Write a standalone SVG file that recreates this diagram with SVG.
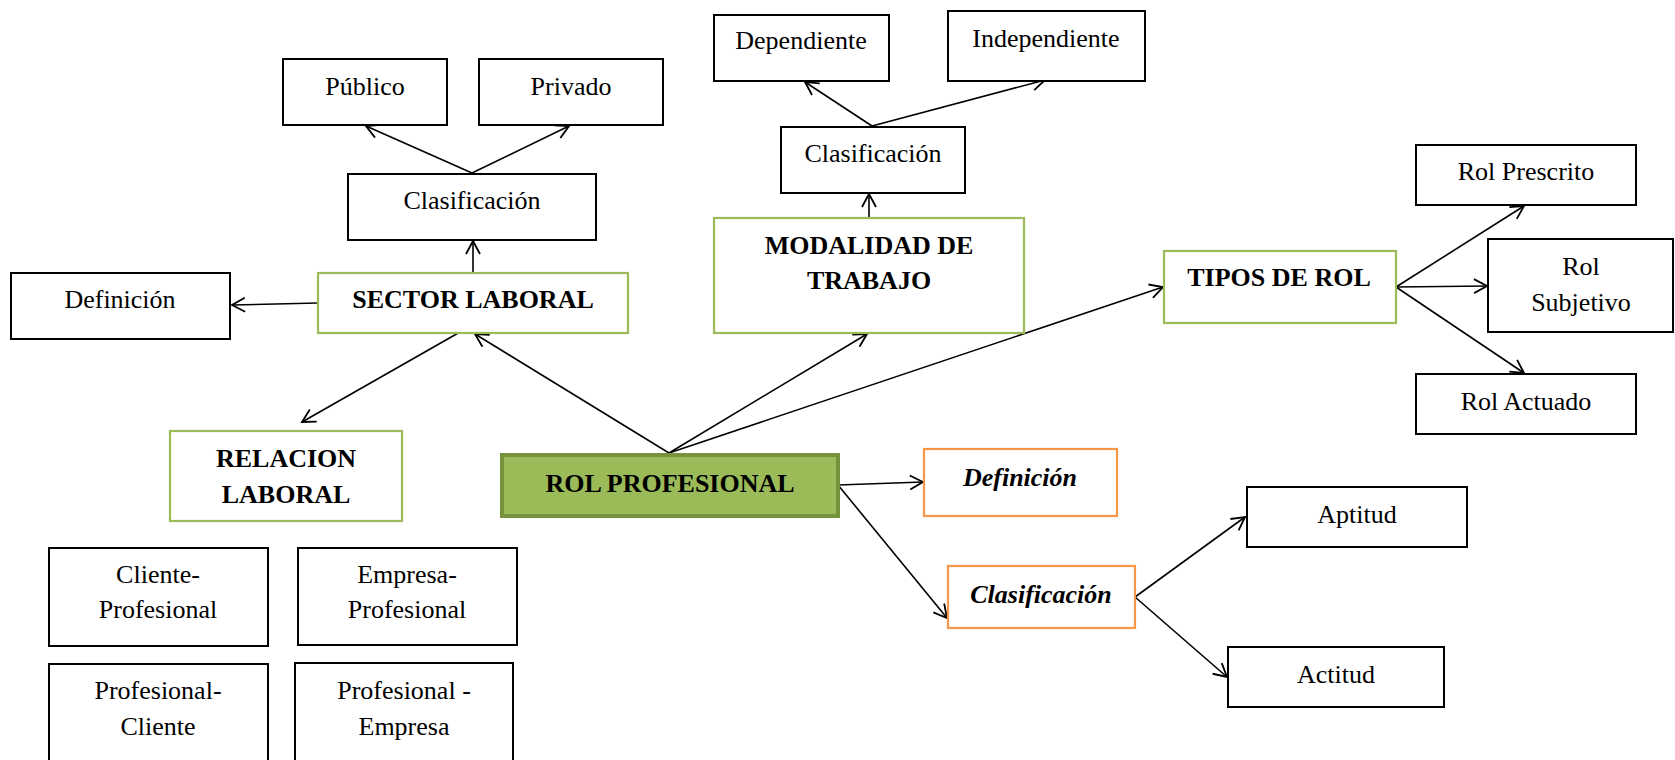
<svg xmlns="http://www.w3.org/2000/svg" width="1675" height="760" viewBox="0 0 1675 760">
<defs>
<style>
.b{fill:#fff;stroke:#000;stroke-width:2}
.g{fill:#fff;stroke:#9BBB59;stroke-width:2.2}
.o{fill:#fff;stroke:#F79646;stroke-width:2.2}
.t{font-family:"Liberation Serif","Times New Roman",serif;font-size:26px;fill:#000;text-anchor:middle}
.tb{font-family:"Liberation Serif","Times New Roman",serif;font-size:26px;font-weight:bold;fill:#000;text-anchor:middle}
.ti{font-family:"Liberation Serif","Times New Roman",serif;font-size:26px;font-weight:bold;font-style:italic;fill:#000;text-anchor:middle}
.c line{stroke:#000;stroke-width:1.6;marker-end:url(#ah)}
</style>
<marker id="ah" markerUnits="userSpaceOnUse" markerWidth="16" markerHeight="16" refX="14" refY="8" orient="auto">
<path d="M1,1 L14,8 L1,15" fill="none" stroke="#000" stroke-width="1.8"/>
</marker>
</defs>
<rect width="1675" height="760" fill="#fff"/>

<g class="c">
<line x1="472" y1="173" x2="366" y2="126"/>
<line x1="472" y1="173" x2="569" y2="126"/>
<line x1="473" y1="273" x2="473" y2="241"/>
<line x1="318" y1="303" x2="232" y2="305"/>
<line x1="669" y1="453" x2="475" y2="334"/>
<line x1="460" y1="332" x2="302" y2="422"/>
<line x1="669" y1="453" x2="867" y2="334"/>
<line x1="669" y1="453" x2="1163" y2="287"/>
<line x1="869" y1="218" x2="869" y2="194"/>
<line x1="872" y1="126" x2="805" y2="82"/>
<line x1="872" y1="126" x2="1045" y2="80"/>
<line x1="1396" y1="287" x2="1524" y2="206"/>
<line x1="1396" y1="287" x2="1487" y2="286"/>
<line x1="1396" y1="287" x2="1524" y2="373"/>
<line x1="838" y1="485" x2="923" y2="482"/>
<line x1="838" y1="485" x2="947" y2="618"/>
<line x1="1135" y1="597" x2="1245" y2="517"/>
<line x1="1135" y1="597" x2="1227" y2="677"/>
</g>

<g id="publico"><rect class="b" x="283" y="59" width="164" height="66"/><text class="t" x="365" y="95">Público</text></g>
<g id="privado"><rect class="b" x="479" y="59" width="184" height="66"/><text class="t" x="571" y="95">Privado</text></g>
<g id="clasif-sector"><rect class="b" x="348" y="174" width="248" height="66"/><text class="t" x="472" y="209">Clasificación</text></g>
<g id="definicion-sector"><rect class="b" x="11" y="273" width="219" height="66"/><text class="t" x="120" y="308">Definición</text></g>
<g id="sector-laboral"><rect class="g" x="318" y="273" width="310" height="60"/><text class="tb" x="473" y="308">SECTOR LABORAL</text></g>
<g id="relacion-laboral"><rect class="g" x="170" y="431" width="232" height="90"/><text class="tb" x="286" y="467">RELACION</text><text class="tb" x="286" y="503">LABORAL</text></g>
<g id="rol-profesional"><rect x="502" y="455" width="336" height="61" fill="#9BBB59" stroke="#76923C" stroke-width="4"/><text class="tb" x="670" y="492">ROL PROFESIONAL</text></g>
<g id="cliente-profesional"><rect class="b" x="49" y="548" width="219" height="98"/><text class="t" x="158" y="583">Cliente-</text><text class="t" x="158" y="618">Profesional</text></g>
<g id="empresa-profesional"><rect class="b" x="298" y="548" width="219" height="97"/><text class="t" x="407" y="583">Empresa-</text><text class="t" x="407" y="618">Profesional</text></g>
<g id="profesional-cliente"><rect class="b" x="49" y="664" width="219" height="110"/><text class="t" x="158" y="699">Profesional-</text><text class="t" x="158" y="735">Cliente</text></g>
<g id="profesional-empresa"><rect class="b" x="295" y="663" width="218" height="110"/><text class="t" x="404" y="699">Profesional -</text><text class="t" x="404" y="735">Empresa</text></g>
<g id="dependiente"><rect class="b" x="714" y="15" width="175" height="66"/><text class="t" x="801" y="49">Dependiente</text></g>
<g id="independiente"><rect class="b" x="948" y="11" width="197" height="70"/><text class="t" x="1046" y="47">Independiente</text></g>
<g id="clasif-modalidad"><rect class="b" x="781" y="127" width="184" height="66"/><text class="t" x="873" y="162">Clasificación</text></g>
<g id="modalidad"><rect class="g" x="714" y="218" width="310" height="115"/><text class="tb" x="869" y="254">MODALIDAD DE</text><text class="tb" x="869" y="289">TRABAJO</text></g>
<g id="tipos-rol"><rect class="g" x="1164" y="251" width="232" height="72"/><text class="tb" x="1279" y="286">TIPOS DE ROL</text></g>
<g id="rol-prescrito"><rect class="b" x="1416" y="145" width="220" height="60"/><text class="t" x="1526" y="180">Rol Prescrito</text></g>
<g id="rol-subjetivo"><rect class="b" x="1488" y="239" width="185" height="93"/><text class="t" x="1581" y="275">Rol</text><text class="t" x="1581" y="311">Subjetivo</text></g>
<g id="rol-actuado"><rect class="b" x="1416" y="374" width="220" height="60"/><text class="t" x="1526" y="410">Rol Actuado</text></g>
<g id="definicion-rol"><rect class="o" x="924" y="449" width="193" height="67"/><text class="ti" x="1020" y="486">Definición</text></g>
<g id="clasif-rol"><rect class="o" x="948" y="566" width="187" height="62"/><text class="ti" x="1041" y="603">Clasificación</text></g>
<g id="aptitud"><rect class="b" x="1247" y="487" width="220" height="60"/><text class="t" x="1357" y="523">Aptitud</text></g>
<g id="actitud"><rect class="b" x="1228" y="647" width="216" height="60"/><text class="t" x="1336" y="683">Actitud</text></g>
</svg>
